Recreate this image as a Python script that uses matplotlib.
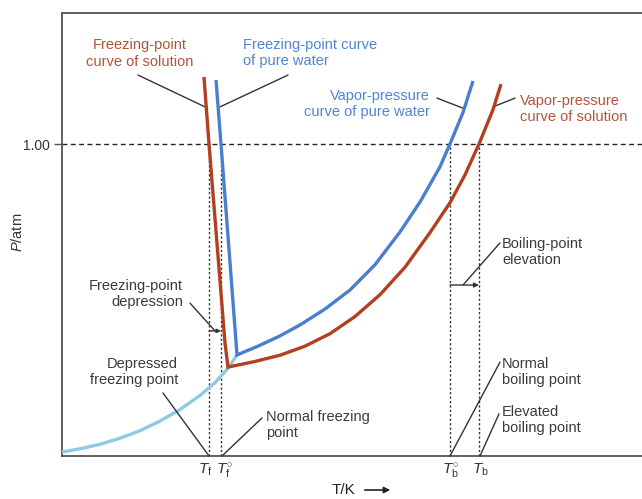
import matplotlib
matplotlib.use("Agg")
import matplotlib.pyplot as plt
from matplotlib.transforms import ScaledTranslation

plt.rcParams['font.family'] = ['Liberation Sans', 'DejaVu Sans']
plt.rcParams['mathtext.fontset'] = 'custom'
plt.rcParams['mathtext.rm'] = 'Liberation Sans'
plt.rcParams['mathtext.it'] = 'Liberation Sans:italic'

# ---- data (T in arbitrary units, P in atm) ----
solid_T = [0, 18, 38, 58, 78, 98, 118, 138, 153, 166, 175]
solid_P = [0.013, 0.023, 0.0375, 0.057, 0.081, 0.112, 0.149, 0.194, 0.235, 0.281, 0.324]

freeze_pure_T = [154, 159, 175]
freeze_pure_P = [1.205, 1.000, 0.324]

freeze_sol_T = [142, 147, 163, 166]
freeze_sol_P = [1.215, 1.000, 0.362, 0.285]

vap_pure_T = [175, 196, 218, 238, 263, 288, 313, 338, 358, 378, 388, 401, 411]
vap_pure_P = [0.324, 0.352, 0.385, 0.420, 0.471, 0.532, 0.613, 0.718, 0.814, 0.927, 1.000, 1.101, 1.202]

vap_sol_T = [166, 193, 218, 243, 268, 293, 318, 343, 368, 388, 403, 417, 431, 439]
vap_sol_P = [0.285, 0.303, 0.323, 0.352, 0.392, 0.447, 0.517, 0.605, 0.716, 0.812, 0.901, 1.000, 1.110, 1.192]

T_f, T_f0, T_b0, T_b = 147, 159, 388, 417
key_T = [T_f, T_f0, T_b0, T_b]
key_labels = [r'$T_{\mathrm{f}}$', r'$T^{\circ}_{\mathrm{f}}$', r'$T^{\circ}_{\mathrm{b}}$', r'$T_{\mathrm{b}}$']
P_ref = 1.00

RED = '#b23f1f'
BLUE = '#4a7fd0'
LIGHT = '#8fcbe0'
RED_TXT = '#b0553a'
BLUE_TXT = '#4f86d1'
GRAY_TXT = '#3a3a3a'

W, H = 642, 499
fig = plt.figure(figsize=(W / 100, H / 100), dpi=100)
ax = fig.add_axes([62 / W, (H - 456) / H, 580 / W, (456 - 13) / H])
ax.set_xlim(0, 580)
ax.set_ylim(0, (456 - 13) / 312)

for s in ['left', 'top', 'bottom']:
    ax.spines[s].set_color('#555555')
    ax.spines[s].set_linewidth(1.3)
ax.spines['right'].set_visible(False)

# reference lines
ax.axhline(P_ref, color='#222222', lw=1.0, ls=(0, (3.5, 2.5)), zorder=1)
for t in key_T:
    ax.plot([t, t], [0, P_ref], color='#333333', lw=1.0, ls=(0, (1.6, 1.6)), zorder=1)

# curves
lw = 2.4
ax.plot(solid_T, solid_P, color=LIGHT, lw=lw, solid_capstyle='butt', zorder=3)
ax.plot(freeze_pure_T + vap_pure_T[1:], freeze_pure_P + vap_pure_P[1:], color=BLUE, lw=lw,
        solid_joinstyle='miter', solid_capstyle='butt', zorder=4)
ax.plot(freeze_sol_T + vap_sol_T[1:], freeze_sol_P + vap_sol_P[1:], color=RED, lw=lw,
        solid_joinstyle='miter', solid_capstyle='butt', zorder=4)

# ticks
ax.set_yticks([P_ref])
ax.set_yticklabels(['1.00'], fontsize=10, color='#333333')
ax.tick_params(axis='y', length=6, width=1.0, color='#555555', pad=3)
ax.set_xticks(key_T)
ax.set_xticklabels(key_labels, fontsize=11, color='#333333')
ax.tick_params(axis='x', length=0, pad=4)
shifts = [-2.5, 2.5, 0, 1]
for lab, dx in zip(ax.get_xticklabels(), shifts):
    lab.set_transform(lab.get_transform() + ScaledTranslation(dx / 72, 0, fig.dpi_scale_trans))

fs = 10.5
lc = '#333333'

def leader(p0, p1):
    ax.annotate('', xy=p1, xytext=p0,
                arrowprops=dict(arrowstyle='-', color=lc, lw=1.0, shrinkA=0, shrinkB=0))

ax.text(78, 1.290, 'Freezing-point\ncurve of solution', color=RED_TXT, fontsize=fs,
        ha='center', va='center')
leader((76, 1.221), (143, 1.119))

ax.text(181, 1.292, 'Freezing-point curve\nof pure water', color=BLUE_TXT, fontsize=fs,
        ha='left', va='center', multialignment='left')
leader((226, 1.221), (158, 1.119))

ax.text(368, 1.128, 'Vapor-pressure\ncurve of pure water', color=BLUE_TXT, fontsize=fs,
        ha='right', va='center', multialignment='right')
leader((375, 1.147), (401, 1.115))

ax.text(458, 1.112, 'Vapor-pressure\ncurve of solution', color=RED_TXT, fontsize=fs,
        ha='left', va='center', multialignment='left')
leader((453, 1.147), (431, 1.119))

ax.text(121, 0.519, 'Freezing-point\ndepression', color=GRAY_TXT, fontsize=fs,
        ha='right', va='center', multialignment='right')
leader((128, 0.490), (153, 0.401))
ax.annotate('', xy=(T_f0, 0.401), xytext=(T_f, 0.401),
            arrowprops=dict(arrowstyle='-|>', color=lc, lw=1.0, shrinkA=0, shrinkB=0,
                            mutation_scale=6))

ax.text(116, 0.269, 'Depressed\nfreezing point', color=GRAY_TXT, fontsize=fs,
        ha='right', va='center', multialignment='right')
leader((101, 0.202), (T_f, 0.0))

ax.text(204, 0.099, 'Normal freezing\npoint', color=GRAY_TXT, fontsize=fs,
        ha='left', va='center', multialignment='left')
leader((200, 0.122), (T_f0 + 1, 0.0))

ax.text(440, 0.654, 'Boiling-point\nelevation', color=GRAY_TXT, fontsize=fs,
        ha='left', va='center', multialignment='left')
leader((438, 0.683), (401, 0.548))
ax.annotate('', xy=(T_b, 0.548), xytext=(T_b0, 0.548),
            arrowprops=dict(arrowstyle='-|>', color=lc, lw=1.0, shrinkA=0, shrinkB=0,
                            mutation_scale=7))

ax.text(440, 0.269, 'Normal\nboiling point', color=GRAY_TXT, fontsize=fs,
        ha='left', va='center', multialignment='left')
leader((438, 0.301), (T_b0, 0.0))

ax.text(440, 0.115, 'Elevated\nboiling point', color=GRAY_TXT, fontsize=fs,
        ha='left', va='center', multialignment='left')
leader((437, 0.135), (T_b + 1, 0.0))

# axis titles
fig.text(17 / W, 1 - 232 / H, r'$P$/atm', rotation=90, fontsize=10.5, color='#333333',
         ha='center', va='center')
fig.text(343 / W, 1 - 490 / H, 'T/K', fontsize=11, color='#222222', ha='center', va='center')
fig.patches.append(matplotlib.patches.FancyArrowPatch(
    (362 / W, 1 - 490 / H), (393 / W, 1 - 490 / H), transform=fig.transFigure,
    arrowstyle='-|>', mutation_scale=9, color='#222222', lw=1.2))

fig.savefig('out.png', dpi=100)
